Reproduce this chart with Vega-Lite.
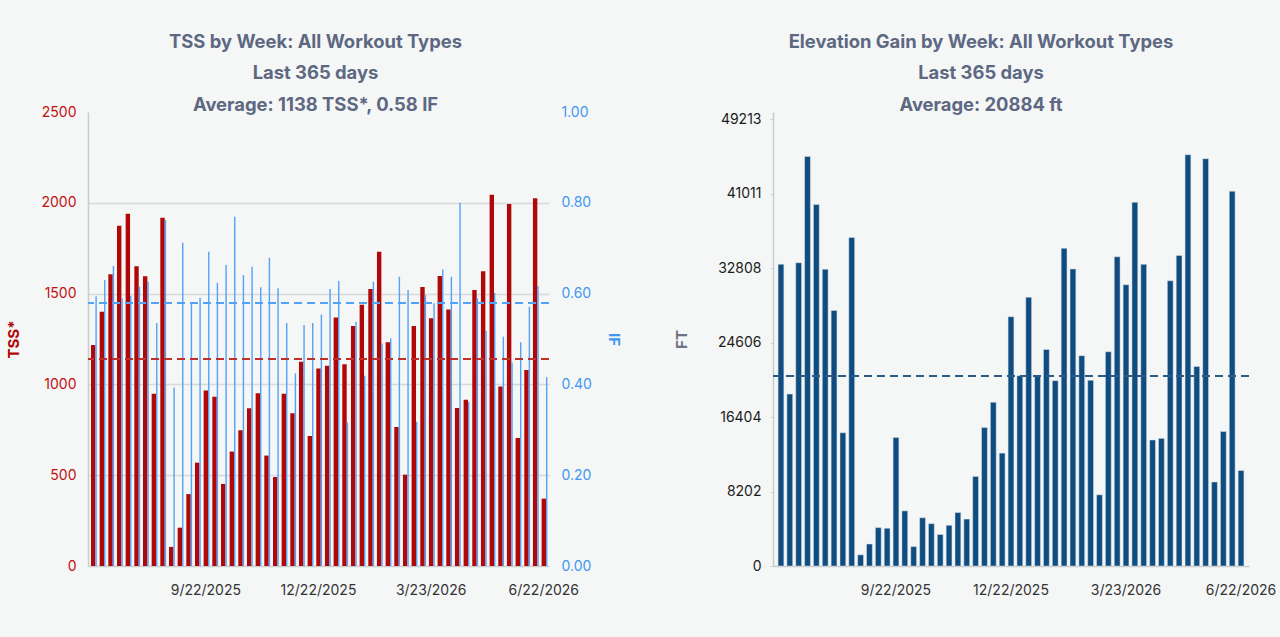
{
  "$schema": "https://vega.github.io/schema/vega-lite/v6.json",
  "background": "#f5f6f6",
  "padding": {"left": 6, "top": 32, "right": 4, "bottom": 40},
  "spacing": 53,
  "datasets": {
    "weeks": [
      {"week": "6/23/2025", "tss": 1217, "intensity": 0.594, "elev": 33220},
      {"week": "6/30/2025", "tss": 1400, "intensity": 0.630, "elev": 18935},
      {"week": "7/7/2025", "tss": 1606, "intensity": 0.661, "elev": 33400},
      {"week": "7/14/2025", "tss": 1874, "intensity": 0.589, "elev": 45110},
      {"week": "7/21/2025", "tss": 1940, "intensity": 0.595, "elev": 39800},
      {"week": "7/28/2025", "tss": 1650, "intensity": 0.615, "elev": 32680},
      {"week": "8/4/2025", "tss": 1595, "intensity": 0.626, "elev": 28149},
      {"week": "8/11/2025", "tss": 949, "intensity": 0.535, "elev": 14670},
      {"week": "8/18/2025", "tss": 1918, "intensity": 0.762, "elev": 36180},
      {"week": "8/25/2025", "tss": 105, "intensity": 0.393, "elev": 1229},
      {"week": "9/1/2025", "tss": 211, "intensity": 0.712, "elev": 2420},
      {"week": "9/8/2025", "tss": 396, "intensity": 0.577, "elev": 4228},
      {"week": "9/15/2025", "tss": 569, "intensity": 0.591, "elev": 4155},
      {"week": "9/22/2025", "tss": 967, "intensity": 0.692, "elev": 14165},
      {"week": "9/29/2025", "tss": 932, "intensity": 0.624, "elev": 6070},
      {"week": "10/6/2025", "tss": 452, "intensity": 0.663, "elev": 2132},
      {"week": "10/13/2025", "tss": 630, "intensity": 0.769, "elev": 5312},
      {"week": "10/20/2025", "tss": 747, "intensity": 0.641, "elev": 4661},
      {"week": "10/27/2025", "tss": 868, "intensity": 0.659, "elev": 3469},
      {"week": "11/3/2025", "tss": 951, "intensity": 0.614, "elev": 4481},
      {"week": "11/10/2025", "tss": 608, "intensity": 0.679, "elev": 5889},
      {"week": "11/17/2025", "tss": 490, "intensity": 0.612, "elev": 5167},
      {"week": "11/24/2025", "tss": 949, "intensity": 0.535, "elev": 9864},
      {"week": "12/1/2025", "tss": 841, "intensity": 0.424, "elev": 15248},
      {"week": "12/8/2025", "tss": 1125, "intensity": 0.531, "elev": 18030},
      {"week": "12/15/2025", "tss": 716, "intensity": 0.535, "elev": 12430},
      {"week": "12/22/2025", "tss": 1087, "intensity": 0.554, "elev": 27462},
      {"week": "12/29/2025", "tss": 1103, "intensity": 0.610, "elev": 20958},
      {"week": "1/5/2026", "tss": 1369, "intensity": 0.628, "elev": 29593},
      {"week": "1/12/2026", "tss": 1111, "intensity": 0.316, "elev": 20958},
      {"week": "1/19/2026", "tss": 1322, "intensity": 0.538, "elev": 23848},
      {"week": "1/26/2026", "tss": 1439, "intensity": 0.419, "elev": 20415},
      {"week": "2/2/2026", "tss": 1525, "intensity": 0.626, "elev": 34990},
      {"week": "2/9/2026", "tss": 1731, "intensity": 0.490, "elev": 32714},
      {"week": "2/16/2026", "tss": 1232, "intensity": 0.501, "elev": 23162},
      {"week": "2/23/2026", "tss": 765, "intensity": 0.637, "elev": 20451},
      {"week": "3/2/2026", "tss": 503, "intensity": 0.608, "elev": 7841},
      {"week": "3/9/2026", "tss": 1322, "intensity": 0.318, "elev": 23595},
      {"week": "3/16/2026", "tss": 1536, "intensity": 0.597, "elev": 34052},
      {"week": "3/23/2026", "tss": 1364, "intensity": 0.579, "elev": 30979},
      {"week": "3/30/2026", "tss": 1597, "intensity": 0.653, "elev": 40050},
      {"week": "4/6/2026", "tss": 1412, "intensity": 0.637, "elev": 33220},
      {"week": "4/13/2026", "tss": 870, "intensity": 0.800, "elev": 13875},
      {"week": "4/20/2026", "tss": 916, "intensity": 0.362, "elev": 14056},
      {"week": "4/27/2026", "tss": 1520, "intensity": 0.590, "elev": 31413},
      {"week": "5/4/2026", "tss": 1623, "intensity": 0.518, "elev": 34196},
      {"week": "5/11/2026", "tss": 2045, "intensity": 0.602, "elev": 45288},
      {"week": "5/18/2026", "tss": 988, "intensity": 0.505, "elev": 21970},
      {"week": "5/25/2026", "tss": 1994, "intensity": 0.448, "elev": 44854},
      {"week": "6/1/2026", "tss": 705, "intensity": 0.493, "elev": 9250},
      {"week": "6/8/2026", "tss": 1079, "intensity": 0.571, "elev": 14815},
      {"week": "6/15/2026", "tss": 2025, "intensity": 0.617, "elev": 41277},
      {"week": "6/22/2026", "tss": 371, "intensity": 0.416, "elev": 10515}
    ]
  },
  "hconcat": [
    {
      "width": 461,
      "height": 454,
      "data": {"name": "weeks"},
      "title": {
        "text": ["TSS by Week: All Workout Types", "Last 365 days", "Average: 1138 TSS*, 0.58 IF"],
        "anchor": "middle",
        "dx": -3,
        "dy": 7,
        "offset": -2
      },
      "layer": [
        {
          "mark": {"type": "bar", "color": "#b00808", "width": 4.4},
          "encoding": {
            "x": {
              "field": "week", "type": "ordinal", "sort": null,
              "scale": {"paddingInner": 0, "paddingOuter": 0.1},
              "axis": {"title": null, "values": ["9/22/2025", "12/22/2025", "3/23/2026", "6/22/2026"], "labelAngle": 0, "ticks": false, "labelPadding": 17}
            },
            "y": {
              "field": "tss", "type": "quantitative",
              "scale": {"domain": [0, 2500]},
              "axis": {
                "title": "TSS*", "titleColor": "#b00808", "labelColor": "#c01010",
                "values": [0, 500, 1000, 1500, 2000, 2500], "format": "d",
                "ticks": false, "labelPadding": 12, "titlePadding": 19, "domain": true,
                "grid": true,
                "gridOpacity": {"condition": {"test": "datum.value >= 2500 || datum.value <= 0", "value": 0}, "value": 1}
              }
            }
          }
        },
        {
          "mark": {"type": "bar", "color": "#52a2f8", "width": 1.4, "xOffset": 2.9},
          "encoding": {
            "x": {"field": "week", "type": "ordinal", "sort": null},
            "y": {
              "field": "intensity", "type": "quantitative",
              "scale": {"domain": [0, 1]},
              "axis": {
                "orient": "right", "title": "IF", "titleColor": "#3f97f2", "labelColor": "#3f97f2",
                "format": ".2f", "values": [0, 0.2, 0.4, 0.6, 0.8, 1],
                "ticks": false, "domain": false, "grid": false, "labelPadding": 12, "titlePadding": 14
              }
            }
          }
        },
        {
          "mark": {"type": "rule", "color": "#c0302a", "strokeDash": [8, 5], "strokeWidth": 1.5},
          "encoding": {"y": {"datum": 1138, "type": "quantitative", "scale": {"domain": [0, 2500]}, "axis": null}}
        },
        {
          "mark": {"type": "rule", "color": "#52a2f8", "strokeDash": [8, 5], "strokeWidth": 1.5},
          "encoding": {"y": {"datum": 0.58, "type": "quantitative", "scale": {"domain": [0, 1]}, "axis": null}}
        }
      ],
      "resolve": {"scale": {"y": "independent"}, "axis": {"y": "independent"}}
    },
    {
      "width": 476,
      "height": 454,
      "data": {"name": "weeks"},
      "title": {
        "text": ["Elevation Gain by Week: All Workout Types", "Last 365 days", "Average: 20884 ft"],
        "anchor": "middle",
        "dx": -30,
        "offset": -2
      },
      "layer": [
        {
          "mark": {"type": "bar", "color": "#0f4c7f", "width": 5.8, "stroke": "#d9e2ec", "strokeWidth": 0.5},
          "encoding": {
            "x": {
              "field": "week", "type": "ordinal", "sort": null,
              "scale": {"paddingInner": 0, "paddingOuter": 0.4},
              "axis": {"title": null, "values": ["9/22/2025", "12/22/2025", "3/23/2026", "6/22/2026"], "labelAngle": 0, "ticks": false, "labelPadding": 17}
            },
            "y": {
              "field": "elev", "type": "quantitative",
              "scale": {"domain": [0, 49213]},
              "axis": {
                "title": "FT", "titleColor": "#6b7385", "labelColor": "#1c1c1c",
                "values": [0, 8202, 16404, 24606, 32808, 41011, 49213], "format": "d",
                "ticks": true, "tickSize": 3, "tickColor": "#d0d0d0", "labelPadding": 9, "titlePadding": 28, "grid": false
              }
            }
          }
        },
        {
          "mark": {"type": "rule", "color": "#2d5b87", "strokeDash": [8, 5], "strokeWidth": 1.5},
          "encoding": {"y": {"datum": 20884, "type": "quantitative"}}
        }
      ]
    }
  ],
  "config": {
    "font": "Inter",
    "view": {"stroke": null},
    "title": {"fontSize": 18.4, "fontWeight": "bold", "color": "#5d6882", "lineHeight": 31.5, "font": "Inter"},
    "axis": {
      "labelFont": "Inter", "labelFontSize": 14, "labelColor": "#333333",
      "titleFont": "Inter", "titleFontSize": 15, "titleFontWeight": "bold",
      "domainColor": "#cccccc", "domainWidth": 1.5, "gridColor": "#d8d8d8", "gridWidth": 1.5
    }
  }
}
